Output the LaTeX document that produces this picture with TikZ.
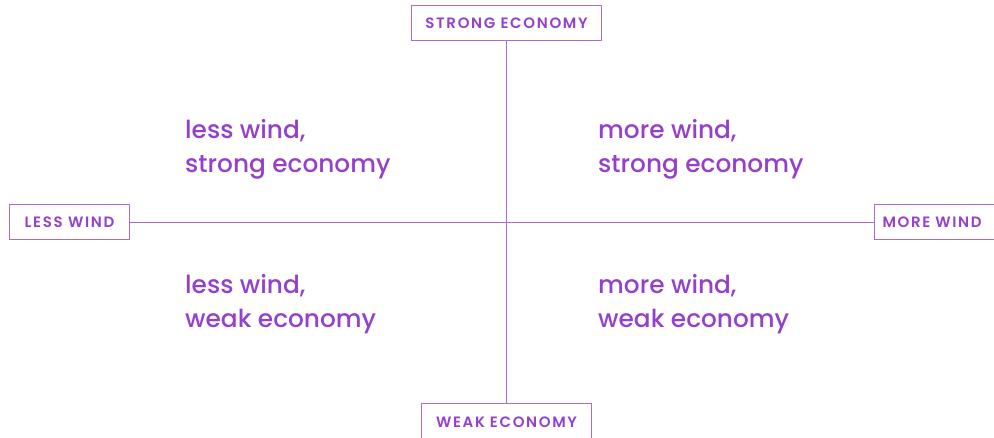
\documentclass[tikz,border=0pt]{standalone}
\usepackage{fontspec}
\setmainfont{Poppins Medium}
\newfontfamily\capsfont[LetterSpace=11]{Poppins SemiBold}
\definecolor{ink}{HTML}{9440CC}
\definecolor{rule}{HTML}{A86BD8}
\begin{document}
\begin{tikzpicture}[x=1pt,y=-1pt,
  axisbox/.style={draw=rule, line width=1pt, text=ink, inner sep=0pt, anchor=north west,
    font=\capsfont\fontsize{15}{17}\selectfont},
  quad/.style={text=ink, anchor=north west, align=left, inner sep=0pt,
    font=\fontsize{24.8}{34}\selectfont},
  axisline/.style={draw=rule, line width=1pt}]
\useasboundingbox (0,0) rectangle (994,437);
\clip (0,0) rectangle (994,437);
% axis end labels
\node[axisbox, minimum width=190, minimum height=35] (top) at (411,5) {STRONG ECONOMY};
\node[axisbox, minimum width=120, minimum height=35] (left) at (9,204) {LESS WIND};
\node[axisbox, minimum width=134, minimum height=35, text width=124, align=left] (right) at (874,204) {\hspace*{3pt}MORE WIND};
\node[axisbox, minimum width=170, minimum height=50, text width=170, align=center] (bottom) at (421,403) {\raisebox{12pt}{WEAK ECONOMY}};
% axes
\draw[axisline] (top.south) -- (bottom.north);
\draw[axisline] (left.east) -- (right.west);
% quadrant labels
\node[quad] (q1) at (185,119) {less wind,\\strong economy};
\node[quad] (q2) at (598,119) {more wind,\\strong economy};
\node[quad] (q3) at (185,274) {less wind,\\weak economy};
\node[quad] (q4) at (598,274) {more wind,\\weak economy};
\end{tikzpicture}
\end{document}
